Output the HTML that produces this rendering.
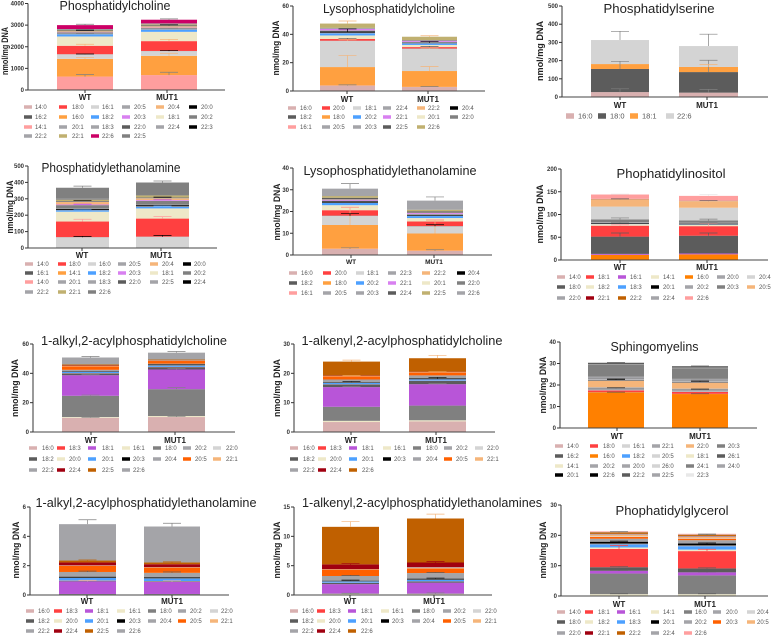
<!DOCTYPE html>
<html lang="en">
<head>
<meta charset="utf-8">
<title>Lipid species by genotype</title>
<style>
html,body{margin:0;padding:0;background:#fff;width:772px;height:637px;overflow:hidden}
svg{display:block;filter:blur(.3px)}
text{font-family:"Liberation Sans",sans-serif}
</style>
</head>
<body>
<svg id="fig" xmlns="http://www.w3.org/2000/svg" width="772" height="637" viewBox="0 0 772 637"></svg>
<script>
// ---------- shared categories ----------
const categories = ['WT', 'MUT1'];

// ---------- Phosphatidylcholine ----------
const pcLabels = ['14:0','14:1','16:0','16:1','16:2','18:0','18:1','18:2','18:3','20:0','20:1','20:2','20:3','20:4','20:5','22:0','22:1','22:2','22:3','22:4','22:5','22:6'];
const pcWT  = [10,610,820,210,5,390,430,100,30,10,15,30,15,35,15,30,20,15,5,10,15,180];
const pcMUT = [10,680,890,220,5,455,430,100,30,10,15,30,15,50,15,40,40,15,5,10,15,170];
const pcLegend = ['14:0','18:0','16:1','20:5','20:4','20:0','16:2','16:0','18:2','20:3','18:1','20:2','14:1','20:1','18:3','22:0','22:4','22:3','22:2','22:1','22:6','22:5'];
const pcErrLabels = ['14:1','16:0','16:1','18:0','20:0','22:0','22:6'];
const pcErrWT  = [90,60,15,70,20,15,40];
const pcErrMUT = [130,120,30,80,25,20,40];
const pcTicks = [0,1000,2000,3000,4000];

// ---------- Lysophosphatidylcholine ----------
const lpcLabels = ['16:0','16:1','18:0','18:1','18:2','20:0','20:1','20:2','20:3','20:4','20:5','22:0','22:1','22:2','22:4','22:5','22:6'];
const lpcWT  = [3.8,.1,13,18.5,.1,1.2,2.5,1.5,.5,.8,.5,.3,1,.1,.4,.3,3];
const lpcMUT = [2.8,.1,11.2,15.8,.1,1,1.5,1,.3,.3,.2,.4,.7,.1,.2,.3,2.3];
const lpcLegend = ['16:0','20:0','18:1','22:4','22:2','20:4','18:2','18:0','20:2','22:1','20:1','22:0','16:1','20:5','20:3','22:5','22:6'];
const lpcErrLabels = ['16:0','18:0','18:1','20:0','20:4','22:6'];
const lpcErrWT  = [.5,8.2,.8,.5,1.8,1.8];
const lpcErrMUT = [.3,3.2,.5,.5,.8,.7];
const lpcTicks = [0,20,40,60];

// ---------- Phosphatidylserine ----------
const psLabels = ['16:0','18:0','18:1','22:6'];
const psWT  = [27,127,27,132];
const psMUT = [24,113,28,115];
const psLegend = ['16:0','18:0','18:1','22:6'];
const psErrLabels = ['16:0','18:0','18:1','22:6'];
const psErrWT  = [18,42,0,48];
const psErrMUT = [18,65,13,65];
const psTicks = [0,100,200,300,400,500];

// ---------- Phosphatidylethanolamine ----------
const peLabels = ['14:0','14:0','14:1','16:0','16:1','18:0','18:1','18:2','18:3','20:0','20:1','20:2','20:3','20:4','20:5','22:0','22:1','22:2','22:4','22:5','22:6'];
const peWT  = [.3,.3,.3,65,.5,95,60,8,2,6,4,20,4,15,3,3,8,3,3,2,65];
const peMUT = [.3,.3,.3,68,.5,110,62,10,3,7,4,22,5,10,3,3,12,2,3,2,72];
const peLegend = ['14:0','18:0','16:0','20:5','20:4','20:0','16:1','14:1','18:2','20:3','18:1','20:2','14:0','20:1','18:3','22:0','22:5','22:4','22:2','22:1','22:6'];
const peErrLabels = ['16:0','18:0','18:2','20:3','22:0','22:6'];
const peErrWT  = [5,14,3,2,2,10];
const peErrMUT = [8,12,4,2,2,9];
const peTicks = [0,100,200,300,400,500];

// ---------- Lysophosphatidylethanolamine ----------
const lpeLabels = ['16:0','16:1','18:0','18:1','18:2','20:0','20:1','20:2','20:3','20:4','20:5','22:0','22:1','22:2','22:3','22:4','22:5','22:6'];
const lpeWT  = [2.8,.1,10.9,4.2,.1,2.5,2.3,1,.2,.5,.3,.1,.4,.1,.1,.7,.8,3.4];
const lpeMUT = [1.9,.1,7.9,3.3,.1,2.1,1.6,.9,.2,.4,.3,.1,.4,.1,.1,.6,.7,4.2];
const lpeLegend = ['16:0','20:0','18:1','22:3','22:2','20:4','18:2','18:0','20:2','22:1','20:1','22:0','16:1','20:5','20:3','22:4','22:5','22:6'];
const lpeErrLabels = ['16:0','18:0','18:1','20:0','22:6'];
const lpeErrWT  = [.5,8,1,1.4,2.3];
const lpeErrMUT = [.5,6,.7,.8,1.7];
const lpeTicks = [0,10,20,30,40];

// ---------- Phophatidylinositol ----------
const piLabels = ['14:0','14:1','16:0','16:1','18:0','18:1','18:2','18:3','20:0','20:1','20:2','20:3','20:4','20:5','22:0','22:1','22:2','22:4','22:6'];
const piWT  = [.2,.2,11,2,38,24,3.5,.5,.5,1.5,2,6,28,16,.5,.1,.1,.3,9.5];
const piMUT = [.2,.2,12,2,39,21,3,.5,.5,1.5,2,5,28,14.5,.5,.1,.1,.3,10.5];
const piLegend = ['14:0','18:1','16:1','14:1','16:0','20:0','20:4','18:0','18:2','18:3','20:1','20:2','20:3','20:5','22:0','22:1','22:2','22:4','22:6'];
const piErrLabels = ['18:0','18:1','20:1','20:3','20:5','22:6'];
const piErrWT  = [8,2,1.5,3,1,1];
const piErrMUT = [6,6,1.5,3,1,3];
const piTicks = [0,50,100,150,200];

// ---------- 1-alkyl,2-acylphosphatidylcholine ----------
const aPcLabels = ['16:0','16:1','18:0','18:1','18:2','18:3','20:0','20:1','20:2','20:3','20:4','20:5','22:0','22:1','22:2','22:4','22:5','22:6'];
const aPcWT  = [9.7,.5,14.5,14,1.3,.1,.1,.8,.3,.4,.7,2.4,.1,.1,.1,.3,.7,4.7];
const aPcMUT = [10.2,.7,18.3,13.4,1.6,.1,.1,.8,.3,.6,.5,1.8,.1,.1,.1,.2,.5,4.7];
const aPcLegend = ['16:0','18:3','18:1','16:1','18:0','20:2','22:0','18:2','20:0','20:1','20:3','20:4','20:5','22:1','22:2','22:4','22:5','22:6'];
const aPcErrLabels = ['16:0','18:0','18:1','22:6'];
const aPcErrWT  = [.3,.5,.5,.7];
const aPcErrMUT = [.5,1,.8,.8];
const aPcTicks = [0,20,40,60];

// ---------- 1-alkenyl,2-acylphosphatidylcholine ----------
const ePcLabels = ['16:0','16:1','18:0','18:1','18:2','18:3','20:0','20:1','20:2','20:3','20:4','20:5','22:0','22:1','22:2','22:4','22:6'];
const ePcWT  = [3.4,.4,4.8,6.7,.9,.05,.05,.4,.1,.2,.9,1.1,.05,.05,.05,.1,4.75];
const ePcMUT = [3.6,.4,5,7.3,1.1,.05,.05,.4,.1,.3,1,1,.05,.05,.05,.1,4.6];
const ePcLegend = ['16:0','18:3','18:1','16:1','18:0','20:2','22:0','18:2','20:0','20:1','20:3','20:4','20:5','22:1','22:2','22:4','22:6'];
const ePcErrLabels = ['18:1','20:3','20:5','22:6'];
const ePcErrWT  = [.2,.2,.2,.5];
const ePcErrMUT = [.2,.3,.2,1];
const ePcTicks = [0,10,20,30];

// ---------- Sphingomyelins ----------
const smLabels = ['14:0','14:1','16:0','16:1','16:2','18:0','18:1','18:2','20:0','20:1','20:2','20:3','20:5','22:0','22:1','22:2','22:3','22:5','22:6','24:0','24:1','26:0','26:1'];
const smWT  = [.05,.05,16.5,.05,.05,.8,.1,.05,.8,.1,.3,.05,.05,3,.1,.3,.1,.5,.1,.8,5.5,.2,.8];
const smMUT = [.05,.05,15.7,.05,.05,.9,.1,.05,.9,.1,.3,.05,.05,2.7,.1,.3,.1,.5,.1,.7,5,.2,.7];
const smLegend = ['14:0','18:0','16:1','22:1','22:0','20:3','16:2','16:0','18:2','20:5','18:1','26:1','14:1','20:2','20:0','26:0','24:1','24:0','20:1','22:6','22:2','22:5','22:3'];
const smErrLabels = ['16:0','20:1','22:2','22:5','26:1'];
const smErrWT  = [.1,.15,.2,.15,.1];
const smErrMUT = [.1,.15,.2,.15,.1];
const smTicks = [0,10,20,30,40];

// ---------- 1-alkyl,2-acylphosphatidylethanolamine ----------
const aPeLabels = ['16:0','16:1','18:0','18:1','18:2','18:3','20:0','20:1','20:2','20:3','20:4','20:5','22:0','22:1','22:2','22:4','22:5','22:6'];
const aPeWT  = [.03,.01,.03,.86,.04,.01,.01,.17,.02,.07,.32,.42,.01,.01,.01,.2,.13,2.48];
const aPeMUT = [.03,.01,.03,.82,.04,.01,.01,.17,.02,.07,.3,.36,.01,.01,.01,.2,.12,2.45];
const aPeLegend = ['16:0','18:3','18:1','16:1','18:0','20:2','22:0','18:2','20:0','20:1','20:3','20:4','20:5','22:1','22:2','22:4','22:5','22:6'];
const aPeErrLabels = ['18:1','20:4','22:5','22:6'];
const aPeErrWT  = [.08,.06,.04,.3];
const aPeErrMUT = [.08,.06,.04,.22];
const aPeTicks = [0,2,4,6];

// ---------- 1-alkenyl,2-acylphosphatidylethanolamines ----------
const ePeLabels = ['16:0','16:1','18:0','18:1','18:2','18:3','20:0','20:1','20:2','20:3','20:4','20:5','22:0','22:1','22:2','22:4','22:6'];
const ePeWT  = [.1,.1,.05,1.6,.2,.02,.02,.2,.05,.1,.8,1.1,.02,.03,.03,.8,6.4];
const ePeMUT = [.1,.1,.05,1.85,.2,.02,.02,.25,.05,.15,.95,.8,.05,.05,.1,.8,7.5];
const ePeLegend = ['16:0','18:3','18:1','16:1','18:0','20:2','22:0','18:2','20:0','20:1','20:3','20:4','20:5','22:1','22:2','22:4','22:6'];
const ePeErrLabels = ['16:1','20:3','20:4','22:4','22:6'];
const ePeErrWT  = [.1,.1,.1,.12,.9];
const ePeErrMUT = [.15,.1,.1,.15,.75];
const ePeTicks = [0,5,10,15];

// ---------- Phophatidylglycerol ----------
const pgLabels = ['14:0','14:1','16:0','16:1','18:0','18:1','18:2','18:3','20:0','20:1','20:2','20:3','20:4','20:5','22:0','22:1','22:2','22:4','22:6'];
const pgWT  = [.1,.5,6.8,.9,1.2,6,.5,1,.3,.6,1,.6,.2,.5,.2,.1,.5,.1,.2];
const pgMUT = [.1,.5,6.2,1,1.3,5.7,.5,1.1,.3,.6,1.1,.5,.2,.4,.2,.1,.4,.1,.2];
const pgLegend = ['14:0','18:1','16:1','14:1','16:0','20:0','20:4','18:0','18:2','18:3','20:1','20:2','20:3','20:5','22:0','22:1','22:2','22:4','22:6'];
const pgErrLabels = ['14:1','16:1','18:0','18:1','20:1','22:2'];
const pgErrWT  = [.15,.2,.2,1.1,.2,.2];
const pgErrMUT = [.15,.2,.2,.6,.2,.2];
const pgTicks = [0,10,20,30];

// ---------- colour palette ----------
const ROSE='#d9b0b0',DARK='#5c5c5c',PINK='#ff9e9e',GREY='#a4a4a8',RED='#ff4040',ORNG='#ffa040',LTGY='#d4d4d4',BLUE='#4da0ff',
      PURP='#b855d8',LILC='#d880f0',CREM='#eee8c8',BLCK='#000000',GRAY='#808080',OLIV='#c0b070',CRIM='#cc0066',PECH='#f5b57a',
      DORG='#ff8000',BORG='#ff6000',DRED='#a00010',BRWN='#c06000',PALE='#e8e8e8';

const c7a = [ROSE,RED,PURP,CREM,GRAY,GREY,LTGY,DARK,CREM,BLUE,BLCK,GREY,BORG,PECH];

// ---------- panel layout ----------
const panels = [
 {id:'phosphatidylcholine',title:'Phosphatidylcholine',tc:115,tb:10,tw:111,ax:28,y0:90,yT:3.5,xE:225,bars:[[57,113],[141,197]],cx:[85,167],cb:100,cs:8,
  yx:5,yc:51,yl:48,ymax:4000,ticks:pcTicks,labels:pcLabels,wt:pcWT,mut:pcMUT,legend:pcLegend,
  colors:[ROSE,RED,LTGY,GREY,PECH,BLCK,DARK,ORNG,BLUE,LILC,CREM,GRAY,PINK,GREY,GREY,DARK,GREY,BLCK,GREY,OLIV,CRIM,GRAY],
  sw:[24,59,91,122,156,189],tx:[35,72,102,134,168,201],ry:[107,117,127,136],
  errL:pcErrLabels,errW:pcErrWT,errM:pcErrMUT,errC:[GRAY,PECH,BLCK,PECH,GRAY,BLCK,GRAY]},
 {id:'lysophosphatidylcholine',title:'Lysophosphatidylcholine',tc:389,tb:13,tw:132,ax:293,y0:91,yT:6,xE:485,bars:[[320,375],[402,457]],cx:[347,428],cb:102,cs:8,
  yx:276,yc:48,yl:55,ymax:60,ticks:lpcTicks,labels:lpcLabels,wt:lpcWT,mut:lpcMUT,legend:lpcLegend,
  colors:[ROSE,RED,LTGY,GREY,PECH,BLCK,DARK,ORNG,BLUE,LILC,CREM,GRAY,PINK,GREY,GREY,DARK,OLIV],
  sw:[288,322,353,383,417,450],tx:[300,333,365,396,428,462],ry:[108,117,127],
  errL:lpcErrLabels,errW:lpcErrWT,errM:lpcErrMUT,errC:[GRAY,PECH,PECH,DARK,BLCK,PECH]},
 {id:'phosphatidylserine',title:'Phosphatidylserine',tc:659,tb:13,tw:111,ax:562,y0:97,yT:6,xE:768,bars:[[591,649],[679,738]],cx:[620,707],cb:108,cs:8,
  yx:540,yc:51,yl:60,ymax:500,ticks:psTicks,labels:psLabels,wt:psWT,mut:psMUT,legend:psLegend,
  colors:[ROSE,DARK,ORNG,LTGY],
  sw:[566,598,630,666],tx:[578,610,642,677],ry:[116],big:true,
  errL:psErrLabels,errW:psErrWT,errM:psErrMUT,errC:[GRAY,GRAY,PECH,GRAY]},
 {id:'phosphatidylethanolamine',title:'Phosphatidylethanolamine',tc:111,tb:172,tw:139,ax:28,y0:248,yT:166,xE:217,bars:[[56,109],[136,189]],cx:[82,161],cb:258,cs:8,
  yx:10,yc:207,yl:53,ymax:500,ticks:peTicks,labels:peLabels,wt:peWT,mut:peMUT,legend:peLegend,
  colors:[ROSE,RED,LTGY,GREY,PECH,BLCK,DARK,ORNG,BLUE,LILC,CREM,GRAY,PINK,GREY,GREY,DARK,GREY,BLCK,GREY,OLIV,GRAY],
  sw:[25,58,88,118,150,183],tx:[37,69,99,129,162,194],ry:[264,273,282,292],
  errL:peErrLabels,errW:peErrWT,errM:peErrMUT,errC:[BLCK,PINK,BLUE,PURP,BLCK,GRAY]},
 {id:'lysophosphatidylethanolamine',title:'Lysophosphatidylethanolamine',tc:390,tb:175,tw:173,ax:293,y0:255,yT:168,xE:492,bars:[[322,378],[407,463]],cx:[351,434],cb:264,cs:6.5,
  yx:277,yc:212,yl:57,ymax:40,ticks:lpeTicks,labels:lpeLabels,wt:lpeWT,mut:lpeMUT,legend:lpeLegend,
  colors:[ROSE,RED,LTGY,GREY,PECH,BLCK,DARK,ORNG,BLUE,LILC,CREM,GRAY,PINK,GREY,GREY,DARK,OLIV,GREY],
  sw:[289,323,356,388,422,457],tx:[301,335,367,400,434,468],ry:[273,283,293],
  errL:lpeErrLabels,errW:lpeErrWT,errM:lpeErrMUT,errC:[GRAY,PECH,BLCK,PINK,GRAY]},
 {id:'phophatidylinositol',title:'Phophatidylinositol',tc:671,tb:178,tw:109,ax:561,y0:260,yT:169,xE:768,bars:[[591,649],[679,738]],cx:[620,707],cb:270,cs:8,
  yx:540,yc:214,yl:59,ymax:200,ticks:piTicks,labels:piLabels,wt:piWT,mut:piMUT,legend:piLegend,
  colors:[ROSE,RED,PURP,CREM,DORG,GREY,LTGY,DARK,CREM,BLUE,BLCK,GREY,GRAY,PECH,GREY,DRED,BRWN,GREY,PINK],
  sw:[557,586,618,651,685,717,747],tx:[569,598,630,663,697,727,759],ry:[277,287,298],
  errL:piErrLabels,errW:piErrWT,errM:piErrMUT,errC:[DARK,PINK,GRAY,GRAY,DARK,PALE]},
 {id:'alkyl-acyl-pc',title:'1-alkyl,2-acylphosphatidylcholine',tc:134,tb:345,tw:186,ax:33,y0:432,yT:344,xE:235,bars:[[62,119],[148,205]],cx:[91,175],cb:443,cs:8,
  yx:15,yc:388,yl:58,ymax:60,ticks:aPcTicks,labels:aPcLabels,wt:aPcWT,mut:aPcMUT,legend:aPcLegend,
  colors:c7a.concat([GREY,DRED,BRWN,GREY]),
  sw:[29,57,88,122,153,183,213],tx:[42,69,102,133,165,195,226],ry:[448,459,470],
  errL:aPcErrLabels,errW:aPcErrWT,errM:aPcErrMUT,errC:[GRAY,GRAY,GRAY,GRAY]},
 {id:'alkenyl-acyl-pc',title:'1-alkenyl,2-acylphosphatidylcholine',tc:402,tb:345,tw:201,ax:294,y0:432,yT:344,xE:495,bars:[[323,380],[409,466]],cx:[351,436],cb:443,cs:8,
  yx:277,yc:388,yl:58,ymax:30,ticks:ePcTicks,labels:ePcLabels,wt:ePcWT,mut:ePcMUT,legend:ePcLegend,
  colors:c7a.concat([GREY,DRED,BRWN]),
  sw:[290,318,349,383,413,444,475],tx:[303,330,362,394,426,456,487],ry:[448,459,470],
  errL:ePcErrLabels,errW:ePcErrWT,errM:ePcErrMUT,errC:[GRAY,BLCK,PECH,PECH]},
 {id:'sphingomyelins',title:'Sphingomyelins',tc:654.5,tb:351,tw:88,ax:560,y0:428,yT:342,xE:757,bars:[[588,644],[672,728]],cx:[617,700],cb:439,cs:8,
  yx:543,yc:385,yl:57,ymax:40,ticks:smTicks,labels:smLabels,wt:smWT,mut:smMUT,legend:smLegend,
  colors:[ROSE,RED,LTGY,GREY,PECH,GRAY,DARK,DORG,BLUE,LTGY,CREM,DARK,CREM,GREY,GREY,LTGY,GRAY,GREY,BLCK,BLCK,DARK,GREY,PALE],
  sw:[555,590,622,652,686,717],tx:[567,603,633,662,697,728],ry:[446,456,466,475],
  errL:smErrLabels,errW:smErrWT,errM:smErrMUT,errC:[DARK,BLCK,BLCK,DARK,DARK]},
 {id:'alkyl-acyl-pe',title:'1-alkyl,2-acylphosphatidylethanolamine',tc:146,tb:507,tw:221,ax:30,y0:595,yT:507,xE:229,bars:[[59,116],[144,200]],cx:[87,172],cb:604,cs:8,
  yx:16,yc:550,yl:57,ymax:6,ticks:aPeTicks,labels:aPeLabels,wt:aPeWT,mut:aPeMUT,legend:aPeLegend,
  colors:c7a.concat([GREY,DRED,BRWN,GREY]),
  sw:[26,54,85,117,148,178,210],tx:[38,66,97,129,160,190,221],ry:[611,621,631],
  errL:aPeErrLabels,errW:aPeErrWT,errM:aPeErrMUT,errC:[ROSE,DARK,BRWN,GRAY]},
 {id:'alkenyl-acyl-pe',title:'1-alkenyl,2-acylphosphatidylethanolamines',tc:422,tb:507,tw:240,ax:294,y0:595,yT:507,xE:492,bars:[[322,379],[407,464]],cx:[350,434],cb:604,cs:8,
  yx:277,yc:550,yl:57,ymax:15,ticks:ePeTicks,labels:ePeLabels,wt:ePeWT,mut:ePeMUT,legend:ePeLegend,
  colors:c7a.concat([GREY,DRED,BRWN]),
  sw:[290,317,348,381,412,443,473],tx:[302,329,361,392,423,454,485],ry:[611,621,631],
  errL:ePeErrLabels,errW:ePeErrWT,errM:ePeErrMUT,errC:[GRAY,BLCK,DARK,DRED,PECH]},
 {id:'phophatidylglycerol',title:'Phophatidylglycerol',tc:672,tb:515,tw:113,ax:561,y0:596,yT:505,xE:768,bars:[[590,648],[678,736]],cx:[619,705],cb:607,cs:8,
  yx:543,yc:550,yl:57,ymax:30,ticks:pgTicks,labels:pgLabels,wt:pgWT,mut:pgMUT,legend:pgLegend,
  colors:[ROSE,RED,PURP,CREM,GRAY,GREY,LTGY,DARK,CREM,BLUE,BLCK,GREY,BORG,PECH,GREY,DRED,BRWN,GREY,PINK],
  sw:[557,585,617,651,684,713,747],tx:[569,598,629,663,695,726,757],ry:[612,622,633],
  errL:pgErrLabels,errW:pgErrWT,errM:pgErrMUT,errC:[DARK,DARK,DARK,RED,BLCK,DARK]}
];

// ---------- drawing ----------
const NS = 'http://www.w3.org/2000/svg';
const root = document.getElementById('fig');
function mk(tag, attrs, parent, txt) {
  const el = document.createElementNS(NS, tag);
  for (const k in attrs) el.setAttribute(k, attrs[k]);
  if (txt !== undefined) el.textContent = txt;
  parent.appendChild(el);
  return el;
}
function seriesColors(p) {
  const out = new Array(p.labels.length).fill('#999');
  const used = new Set();
  p.legend.forEach(function (lab, li) {
    for (let i = 0; i < p.labels.length; i++) {
      if (p.labels[i] === lab && !used.has(i)) { used.add(i); out[i] = p.colors[li]; break; }
    }
  });
  return out;
}
panels.forEach(function (p) {
  const yScale = function (v) { return p.y0 - v / p.ymax * (p.y0 - p.yT); };
  const g = mk('g', {}, root);
  
  

  const colors = seriesColors(p);
  [p.wt, p.mut].forEach(function (vals, bi) {
    const bar = p.bars[bi];
    let cum = 0;
    const tops = [];
    vals.forEach(function (v, si) {
      const y1 = yScale(cum + v), y0 = yScale(cum);
      const r = mk('rect', {x: bar[0], y: y1, width: bar[1] - bar[0], height: Math.max(y0 - y1, .1), fill: colors[si]}, g);
      
      
      cum += v;
      tops.push(cum);
    });
    const errVals = bi === 0 ? p.errW : p.errM;
    const mid = (bar[0] + bar[1]) / 2;
    p.errL.forEach(function (lab, ei) {
      const e = errVals[ei];
      if (!e) return;
      const base = tops[p.labels.indexOf(lab)];
      const yb = yScale(base), ye = yScale(base + e);
      const col = p.errC[ei];
      const eg = mk('g', {stroke: col, 'stroke-width': .7, fill: 'none'}, g);
      
      
      mk('line', {x1: mid, x2: mid, y1: yb, y2: ye}, eg);
      mk('line', {x1: mid - 9, x2: mid + 9, y1: ye, y2: ye}, eg);
    });
  });

  // axes
  const yAxis = mk('line', {x1: p.ax, x2: p.ax, y1: p.yT, y2: p.y0, stroke: '#333', 'stroke-width': 1}, g);
  
  
  const xAxis = mk('line', {x1: p.ax - 3, x2: p.xE, y1: p.y0, y2: p.y0, stroke: '#444', 'stroke-width': 1}, g);
  
  
  p.ticks.forEach(function (t) {
    const y = yScale(t);
    mk('line', {x1: p.ax - 3, x2: p.ax, y1: y, y2: y, stroke: '#333', 'stroke-width': 1}, g);
    const tl = mk('text', {x: p.ax - 4, y: y + 2, 'font-size': 6, 'font-weight': 'bold', 'text-anchor': 'end', fill: '#333'}, g, String(t));
    
    
  });
  categories.forEach(function (c, i) {
    mk('line', {x1: p.cx[i], x2: p.cx[i], y1: p.y0, y2: p.y0 + 3, stroke: '#333', 'stroke-width': 1}, g);
    const cl = mk('text', {x: p.cx[i], y: p.cb, 'font-size': p.cs, 'font-weight': 'bold', 'text-anchor': 'middle', fill: '#222'}, g, c);
    
    
  });

  // titles
  const title = mk('text', {x: p.tc, y: p.tb, 'font-size': 12.5, 'text-anchor': 'middle', fill: '#222', textLength: p.tw, lengthAdjust: 'spacingAndGlyphs'}, g, p.title);
  
  
  const yt = mk('text', {transform: 'translate(' + (p.yx + 3) + ',' + p.yc + ') rotate(-90)', 'font-size': 9, 'font-weight': 'bold', 'text-anchor': 'middle', fill: '#222', textLength: p.yl, lengthAdjust: 'spacingAndGlyphs'}, g, 'nmol/mg DNA');
  
  

  // legend (row-major)
  const cols = p.sw.length;
  p.legend.forEach(function (lab, i) {
    const c = i % cols, r = Math.floor(i / cols);
    const lg = mk('g', {}, g);
    
    
    const h = p.big ? 5.5 : 3.5;
    mk('rect', {x: p.sw[c], y: p.ry[r] - h / 2, width: 8, height: h, fill: p.colors[i]}, lg);
    mk('text', {x: p.tx[c], y: p.ry[r] + (p.big ? 2.7 : 2), 'font-size': p.big ? 7.5 : 6, fill: '#555'}, lg, lab);
  });
});
</script>
</body>
</html>
